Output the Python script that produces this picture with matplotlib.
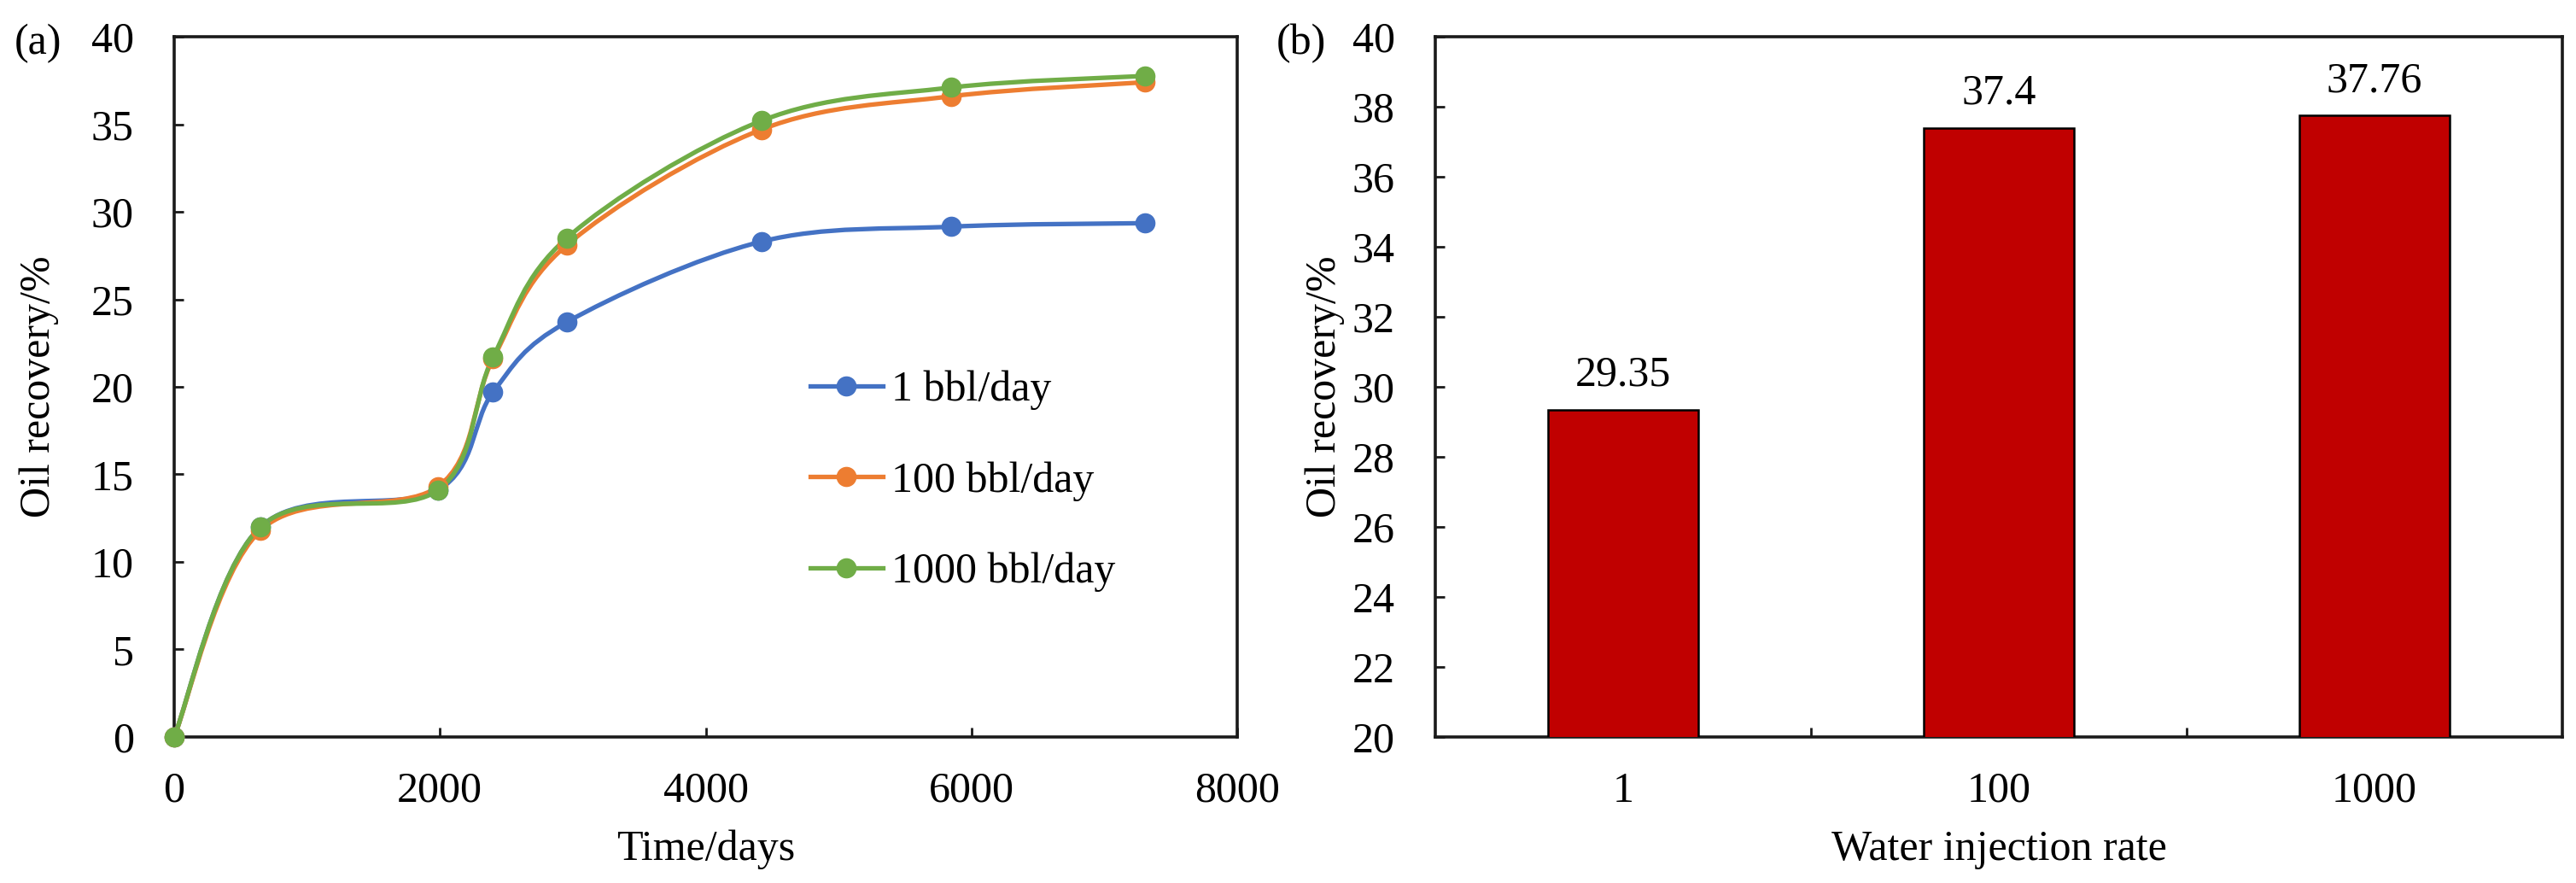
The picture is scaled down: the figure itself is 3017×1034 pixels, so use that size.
import numpy as np
import matplotlib
matplotlib.use("Agg")
import matplotlib.pyplot as plt
from matplotlib.path import Path
from matplotlib.patches import PathPatch
from matplotlib.lines import Line2D

plt.rcParams['font.family'] = ['Liberation Serif', 'DejaVu Serif']
plt.rcParams['font.size'] = 36

# (a) oil recovery vs time
days = [0, 650, 1985, 2400, 2955, 4420, 5850, 7305]
rec_1 = [0, 12.0, 14.1, 19.7, 23.7, 28.3, 29.15, 29.35]
rec_100 = [0, 11.8, 14.3, 21.6, 28.1, 34.7, 36.6, 37.4]
rec_1000 = [0, 12.0, 14.1, 21.7, 28.5, 35.2, 37.1, 37.76]
series_labels = ['1 bbl/day', '100 bbl/day', '1000 bbl/day']
series_colors = ['#4472C4', '#ED7D31', '#70AD47']

# (b) final recovery vs injection rate
rates = ['1', '100', '1000']
final_rec = [29.35, 37.4, 37.76]

edge = '#1a1a1a'


def smooth_path(x, y):
    # excel-like smoothed line: bezier segments through the points
    x = np.asarray(x, float)
    y = np.asarray(y, float)
    pts = np.column_stack([x, y])
    n = len(pts)
    verts = [pts[0]]
    codes = [Path.MOVETO]
    for i in range(n - 1):
        p0 = pts[i - 1] if i > 0 else pts[i]
        p1 = pts[i]
        p2 = pts[i + 1]
        p3 = pts[i + 2] if i + 2 < n else pts[i + 1]
        c1 = p1 + (p2 - p0) / 6.0
        c2 = p2 - (p3 - p1) / 6.0
        verts += [c1, c2, p2]
        codes += [Path.CURVE4] * 3
    return Path(verts, codes)


fig = plt.figure(figsize=(30.17, 10.34), dpi=100)
ax1 = fig.add_axes([0.0676, 0.1654, 0.4127, 0.7930])
ax2 = fig.add_axes([0.5572, 0.1654, 0.4375, 0.7930])

handles = []
for ys, lab, col in zip([rec_1, rec_100, rec_1000], series_labels, series_colors):
    ax1.add_patch(PathPatch(smooth_path(days, ys), facecolor='none',
                            edgecolor=col, lw=3.8, zorder=3, clip_on=False))
    ax1.plot(days, ys, 'o', color=col, ms=16, zorder=4, clip_on=False)
    handles.append(Line2D([], [], color=col, lw=3.8, marker='o', ms=16))

ax1.set_xlim(0, 8000)
ax1.set_ylim(0, 40)
ax1.set_xticks([0, 2000, 4000, 6000, 8000])
ax1.set_yticks(range(0, 41, 5))
ax1.set_xlabel('Time/days', labelpad=16)
ax1.set_ylabel('Oil recovery/%', va='center')
ax1.yaxis.set_label_coords(-0.127, 0.5)
ax1.legend(handles, series_labels, loc='center left',
           bbox_to_anchor=(0.598, 0.365), frameon=False, borderpad=0,
           borderaxespad=0, handlelength=1.7, handletextpad=0.2,
           labelspacing=1.2)

# bars
xpos = np.arange(len(rates))
bars = ax2.bar(xpos, final_rec, width=0.4, bottom=0, color='#C00000',
               edgecolor='black', linewidth=1.8, zorder=3)
for b, v in zip(bars, final_rec):
    ax2.annotate(f'{v:g}', (b.get_x() + b.get_width() / 2, v),
                 xytext=(0, 12), textcoords='offset points',
                 ha='center', va='bottom')
ax2.set_xlim(-0.5, 2.5)
ax2.set_ylim(20, 40)
ax2.set_yticks(range(20, 41, 2))
ax2.set_xticks(xpos, rates)
ax2.set_xticks([0.5, 1.5], minor=True)
ax2.tick_params(axis='x', which='major', length=0)
ax2.tick_params(axis='x', which='minor', direction='in', length=8, width=2,
                color=edge)
ax2.set_xlabel('Water injection rate', labelpad=16)
ax2.set_ylabel('Oil recovery/%', va='center')
ax2.yaxis.set_label_coords(-0.098, 0.5)

for ax in (ax1, ax2):
    for sp in ax.spines.values():
        sp.set_linewidth(2.6)
        sp.set_color(edge)
    ax.tick_params(axis='y', direction='in', length=8, width=2, pad=34,
                   color=edge)
    ax.tick_params(axis='x', which='major', direction='in', length=8,
                   width=2, pad=29, color=edge)

ax2.tick_params(axis='x', which='major', length=0)

fig.text(17 / 3017, 1 - 63 / 1034, '(a)', va='baseline', ha='left')
fig.text(1495 / 3017, 1 - 63 / 1034, '(b)', va='baseline', ha='left')

fig.savefig('out.png', dpi=100)
